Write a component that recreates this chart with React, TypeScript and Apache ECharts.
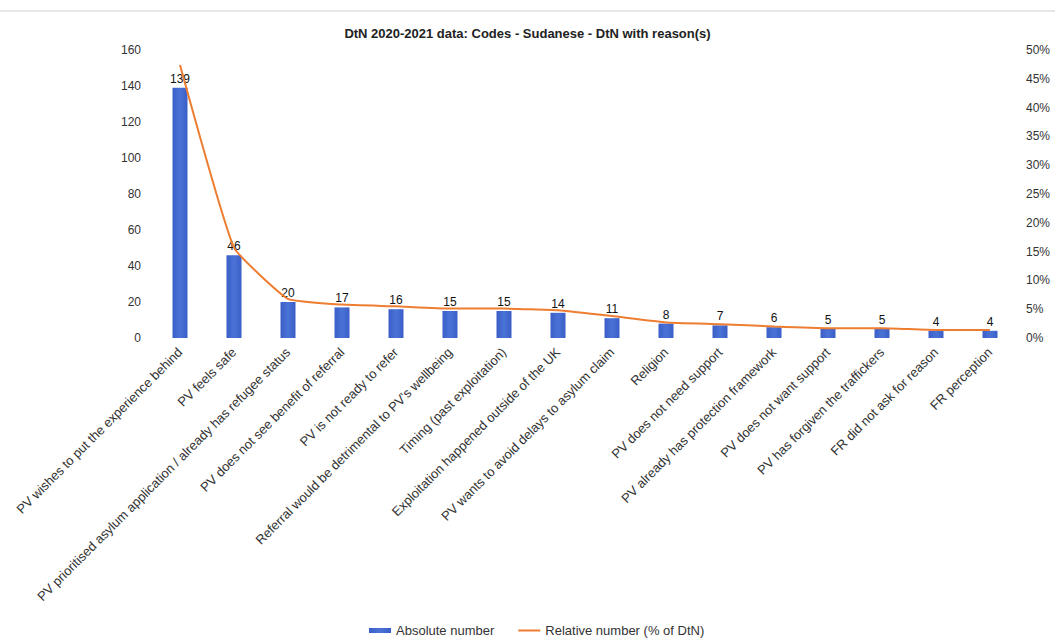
import React, { useEffect, useRef } from "react";
import * as echarts from "echarts";

const categories = [
  "PV wishes to put the experience behind",
  "PV feels safe",
  "PV prioritised asylum application / already has refugee status",
  "PV does not see benefit of referral",
  "PV is not ready to refer",
  "Referral would be detrimental to PV's wellbeing",
  "Timing (past exploitation)",
  "Exploitation happened outside of the UK",
  "PV wants to avoid delays to asylum claim",
  "Religion",
  "PV does not need support",
  "PV already has protection framework",
  "PV does not want support",
  "PV has forgiven the traffickers",
  "FR did not ask for reason",
  "FR perception",
];
const absoluteValues = [139, 46, 20, 17, 16, 15, 15, 14, 11, 8, 7, 6, 5, 5, 4, 4];
const relativeValues = [47.4, 15.7, 6.8, 5.8, 5.5, 5.1, 5.1, 4.8, 3.8, 2.7, 2.4, 2.0, 1.7, 1.7, 1.4, 1.4];
const titleText = "DtN 2020-2021 data: Codes - Sudanese - DtN with reason(s)";
const seriesNames = ["Absolute number", "Relative number (% of DtN)"];

const FONT = "Liberation Sans, Arial, sans-serif";

export default function App() {
  const ref = useRef<HTMLDivElement>(null);
  useEffect(() => {
    if (!ref.current) return;
    const chart = echarts.init(ref.current, null, { renderer: "svg" });
    chart.setOption({
      animation: false,
      backgroundColor: "#fff",
      textStyle: { fontFamily: FONT },
      title: {
        text: titleText,
        left: "center",
        top: 22,
        textStyle: { fontSize: 13, fontWeight: "bold", color: "#222", fontFamily: FONT },
      },
      graphic: [
        {
          type: "line",
          shape: { x1: 0, y1: 11, x2: 1055, y2: 11 },
          style: { stroke: "#cfcfcf", lineWidth: 1 },
        },
      ],
      legend: {
        bottom: 2,
        left: 364,
        itemWidth: 22,
        itemHeight: 5,
        itemGap: 24,
        textStyle: { fontSize: 13, color: "#333", fontFamily: FONT },
        data: [
          { name: seriesNames[0], icon: "rect" },
          { name: seriesNames[1], icon: "path://M0,0L22,0L22,2L0,2Z" },
        ],
      },
      grid: { left: 153, right: 38, top: 50, bottom: 306, containLabel: false },
      xAxis: {
        type: "category",
        data: categories,
        axisLine: { show: false },
        axisTick: { show: false },
        axisLabel: {
          rotate: 45,
          interval: 0,
          fontSize: 13,
          color: "#333",
          margin: 12,
          fontFamily: FONT,
        },
      },
      yAxis: [
        {
          type: "value",
          min: 0,
          max: 160,
          interval: 20,
          splitLine: { show: false },
          axisLine: { show: false },
          axisTick: { show: false },
          axisLabel: { fontSize: 12, color: "#333", margin: 12, fontFamily: FONT },
        },
        {
          type: "value",
          min: 0,
          max: 50,
          interval: 5,
          position: "right",
          splitLine: { show: false },
          axisLine: { show: false },
          axisTick: { show: false },
          axisLabel: { fontSize: 12, color: "#333", margin: 9, formatter: "{value}%", fontFamily: FONT },
        },
      ],
      series: [
        {
          name: seriesNames[0],
          type: "bar",
          data: absoluteValues,
          barWidth: 15,
          itemStyle: {
            color: new echarts.graphic.LinearGradient(0, 0, 1, 0, [
              { offset: 0, color: "#3a5fc8" },
              { offset: 0.5, color: "#4a72d6" },
              { offset: 1, color: "#3a5fc8" },
            ]),
          },
          label: {
            show: true,
            position: "top",
            distance: 3,
            fontSize: 12,
            color: "#111",
            fontFamily: FONT,
          },
        },
        {
          name: seriesNames[1],
          type: "line",
          yAxisIndex: 1,
          data: relativeValues,
          showSymbol: false,
          symbol: "none",
          smooth: 0.12,
          lineStyle: { color: "#ed7d31", width: 2 },
          itemStyle: { color: "#ed7d31" },
        },
      ],
    });
    return () => chart.dispose();
  }, []);
  return (
    <div
      ref={ref}
      style={{ position: "fixed", left: 0, top: 0, width: 1055, height: 644 }}
    />
  );
}
